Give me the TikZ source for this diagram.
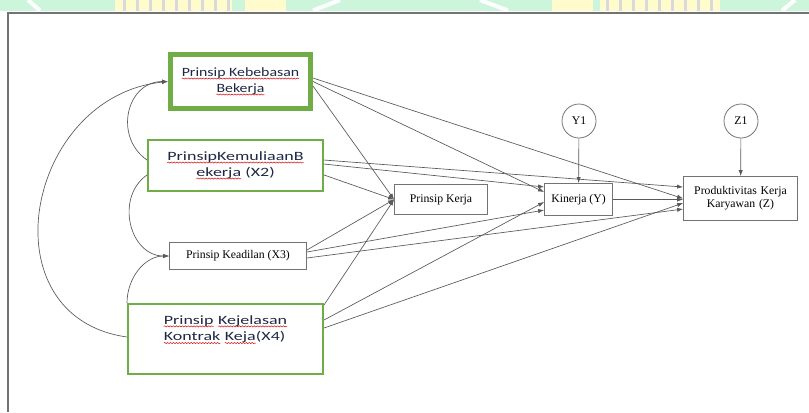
\documentclass[tikz,border=0pt]{standalone}
\usepackage{fontspec}
\setmainfont{Liberation Serif}
\newfontfamily\calibri{Carlito}[FakeStretch=1.42]
\newfontfamily\calibrimid{Carlito}[FakeStretch=1.25]
\usetikzlibrary{arrows.meta,positioning,decorations.pathmorphing}
\definecolor{boxgreen}{RGB}{112,173,71}
\definecolor{mint}{RGB}{204,245,220}
\definecolor{pale}{RGB}{255,251,204}
\definecolor{navy}{RGB}{30,40,70}
\newcommand\spellwave[1]{\tikz[baseline=(w.base),x=1pt,y=1pt]{\node[draw=none,fill=none,inner sep=0pt,outer sep=0pt,minimum size=0pt](w){#1};
  \draw[red!85!black,line width=0.35pt,decorate,decoration={snake,amplitude=0.45pt,segment length=2.2pt}] ([yshift=-1.6pt]w.base west)--([yshift=-1.6pt]w.base east);}}

\begin{document}
\begin{tikzpicture}
[x=0.75pt,y=-0.75pt,>={Latex[length=4.5pt,width=3.2pt]},
greenbox/.style = {draw=boxgreen, line width=1.5pt, align=center, text=navy, inner sep=0pt, font=\calibri\fontsize{9.5}{12}\selectfont},
graybox/.style = {draw=black!55, line width=0.6pt, align=center, inner sep=0pt, font=\fontsize{8.8}{9.5}\selectfont},
errcircle/.style = {draw=black!55, circle, line width=0.6pt, minimum size=25.5pt, inner sep=0pt, font=\fontsize{8.8}{9.5}\selectfont},
link/.style = {draw=black!65, line width=0.5pt},]
\useasboundingbox (0,0) rectangle (809,412);
% watermark band
\fill[mint] (0,0) rectangle (809,10.5);
\fill[pale] (115,0) rectangle (232,10.5);
\fill[pale] (245,0) rectangle (286,10.5);
\fill[pale] (552,0) rectangle (593,10.5);
\fill[pale] (600,0) rectangle (720,10.5);
\foreach \s in {123,136,...,228} \fill[black!15] (\s,0) rectangle (\s+2.5,10.5);
\foreach \s in {606,619,...,716} \fill[black!15] (\s,0) rectangle (\s+2.5,10.5);
\draw[white,line width=3pt] (28,0)--(40,10.5) (313,10.5)--(340,0) (480,0)--(508,10.5) (782,10.5)--(795,0);
\draw[black!55,line width=1.1pt] (809,13)--(8,13)--(8,412);
% variables
\node (X1) at (240.5,81.5)[greenbox,line width=3.75pt,minimum width=105pt,minimum height=40.5pt,font=\calibrimid\fontsize{9.5}{12}\selectfont] {\spellwave{Prinsip Kebebasan}\\\spellwave{Bekerja}};
\node (X2) at (235.5,165.5)[greenbox,minimum width=131.25pt,minimum height=38.25pt] {\spellwave{PrinsipKemuliaanB}\\\spellwave{ekerja} (X2)};
\node (X3) at (238,256)[graybox,minimum width=102.75pt,minimum height=20.25pt] {Prinsip Keadilan (X3)};
\node (X4) at (225.5,339)[greenbox,minimum width=146.25pt,minimum height=52.5pt,align=left,font=\calibri\fontsize{9.5}{12.5}\selectfont] {\spellwave{Prinsip} \spellwave{Kejelasan}\\\spellwave{Kontrak} \spellwave{Keja}(X4)\\\strut};
\node (PK) at (441,199.5)[graybox,minimum width=69.75pt,minimum height=22.5pt] {Prinsip Kerja};
\node (Y) at (578.5,199.5)[graybox,minimum width=51pt,minimum height=24pt] {Kinerja (Y)};
\node (Z) at (740.5,198.5)[graybox,minimum width=85.5pt,minimum height=33pt,text width=80pt] {Produktivitas Kerja\\Karyawan (Z)};
\node (Y1) at (579,121)[errcircle] {Y1};
\node (Z1) at (741,121)[errcircle] {Z1};
% curved arrows on the left
\draw[link,->] ([yshift=4.1pt]X2.west) to[out=145,in=180,looseness=1.3] (X1.west);
\draw[link,->] ([yshift=1.5pt]X4.west) to[out=172,in=186,looseness=1.42] (X1.west);
\draw[link,->] ([yshift=-7.1pt]X2.west) to[out=215,in=180,looseness=1.2] (X3.west);
\draw[link,->] (X4.north west) to[out=90,in=180] (X3.west);
% paths
\draw[link,->] ([yshift=2.6pt]X1.east)--(Z.west);
\draw[link,->] (X1.east)--([yshift=5.6pt]Y.west);
\draw[link,->] ([yshift=-3.4pt]X1.east)--(PK.west);
\draw[link,->] ([yshift=4.1pt]X2.east)--([yshift=8.6pt]Z.west);
\draw[link,->] ([yshift=1.1pt]X2.east)--([yshift=9.4pt]Y.west);
\draw[link,->] ([yshift=-7.1pt]X2.east)--(PK.west);
\draw[link,->] ([yshift=4.5pt]X3.east)--(PK.west);
\draw[link,->] ([yshift=3pt]X3.east)--([yshift=-7.9pt]Y.west);
\draw[link,->] ([yshift=-1.5pt]X3.east)--([yshift=-7.9pt]Z.west);
\draw[link,->] ([yshift=25.5pt]X4.east)--(PK.west);
\draw[link,->] ([yshift=14.25pt]X4.east)--([yshift=-1.9pt]Y.west);
\draw[link,->] ([yshift=8.25pt]X4.east)--([yshift=-3.4pt]Z.west);
\draw[link,->] (Y.east)--(Z.west |- Y.east);
\draw[link,->] (Y1)--(Y);
\draw[link,->] (Z1)--(Z);
\end{tikzpicture}
\end{document}
